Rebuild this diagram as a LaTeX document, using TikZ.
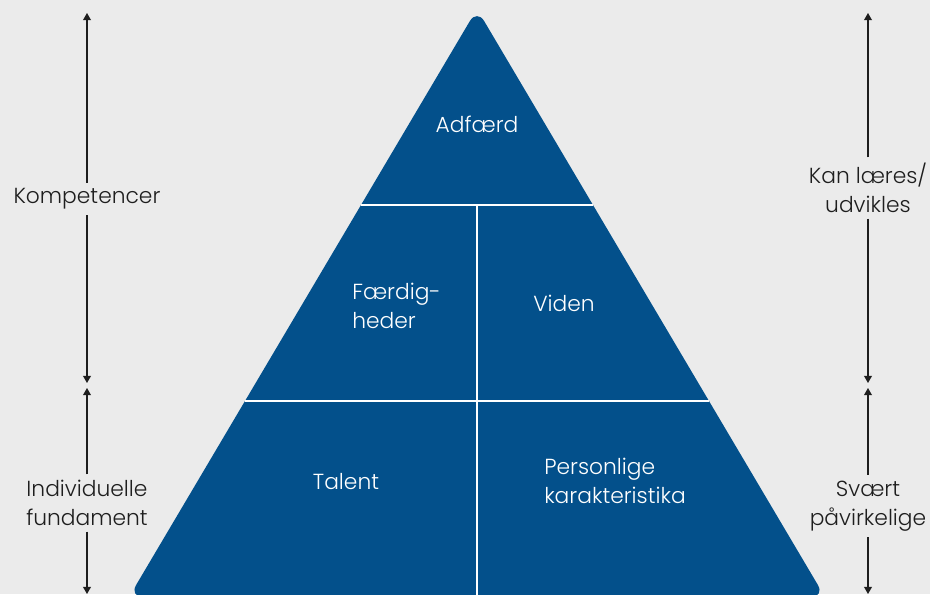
\documentclass[tikz,border=0pt]{standalone}
\usepackage{fontspec}
\setmainfont{Poppins Light}
\usetikzlibrary{arrows.meta}
\definecolor{pyrblue}{RGB}{3,80,139}
\definecolor{baggrund}{RGB}{235,235,235}
\definecolor{tekst}{RGB}{30,30,30}

\begin{document}
\begin{tikzpicture}[x=0.025cm, y=-0.025cm,
    felt/.style={text=white, font=\fontsize{15.5}{20.6}\selectfont},
    etiket/.style={text=tekst, align=center, inner sep=4pt, font=\fontsize{15.5}{20.6}\selectfont},
    pil/.style={-{Triangle[width=5.5pt,length=5pt]}, line width=0.8pt, tekst}]
    % Baggrund
    \fill[baggrund] (0,0) rectangle (930,594);
    \useasboundingbox (0,0) rectangle (930,594);

    % Pyramide
    \fill[pyrblue, rounded corners=10pt] (477,9) -- (825,597) -- (129,597) -- cycle;

    % Skillelinjer
    \draw[white, line width=1.4pt] (361,205) -- (593,205);
    \draw[white, line width=1.4pt] (245,401) -- (709,401);
    \draw[white, line width=1.4pt] (477,205) -- (477,596);

    % Felter
    \node[felt] (adfaerd) at (477,124) {Adfærd};
    \node[felt, anchor=west, align=left, inner sep=0pt] (faerdig) at (352,306) {Færdig-\\heder};
    \node[felt] (viden) at (564,303) {Viden};
    \node[felt] (talent) at (346,482) {Talent};
    \node[felt, anchor=west, align=left, inner sep=0pt] (person) at (544,481) {Personlige\\karakteristika};

    % Venstre side
    \node[etiket] (komp) at (87,199) {Kompetencer};
    \node[etiket] (indiv) at (87,503) {Individuelle\\fundament};
    \coordinate (vtop) at (87,13);
    \coordinate (vmidt1) at (87,383);
    \coordinate (vmidt2) at (87,388);
    \coordinate (vbund) at (87,594);
    \draw[pil] (komp) -- (vtop);
    \draw[pil] (komp) -- (vmidt1);
    \draw[pil] (indiv) -- (vmidt2);
    \draw[pil] (indiv) -- (vbund);

    % Hoejre side
    \node[etiket] (laeres) at (868,188) {Kan læres/\\udvikles};
    \node[etiket] (svaert) at (868,506) {Svært\\påvirkelige};
    \coordinate (htop) at (868,13);
    \coordinate (hmidt1) at (868,383);
    \coordinate (hmidt2) at (868,388);
    \coordinate (hbund) at (868,594);
    \draw[pil] (laeres) -- (htop);
    \draw[pil] (laeres) -- (hmidt1);
    \draw[pil] (svaert) -- (hmidt2);
    \draw[pil] (svaert) -- (hbund);
\end{tikzpicture}
\end{document}
